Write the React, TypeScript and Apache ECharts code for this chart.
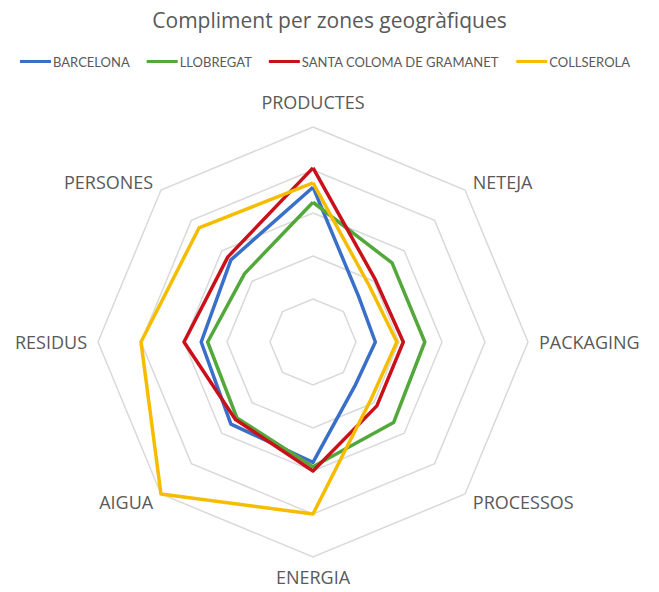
import React, { useEffect, useRef } from "react";
import * as echarts from "echarts";

// Axis categories in ECharts radar order (counter-clockwise from the top)
const categories = ["PRODUCTES", "PERSONES", "RESIDUS", "AIGUA", "ENERGIA", "PROCESSOS", "PACKAGING", "NETEJA"];
const seriesNames = ["BARCELONA", "LLOBREGAT", "SANTA COLOMA DE GRAMANET", "COLLSEROLA"];
const barcelona = [72, 54, 52, 54, 56, 28, 29, 30];
const llobregat = [65, 45, 49, 50, 58, 53, 52, 52];
const santaColoma = [81, 56, 60, 51, 60, 42, 42, 41];
const collserola = [74, 75, 80, 100, 80, 38, 39, 37];
const maxValue = 100;

const colors = ["#3a6fc9", "#52a83a", "#c8111a", "#f6bd00"];
const txt = "#595959";

export default function App() {
  const ref = useRef<HTMLDivElement>(null);
  useEffect(() => {
    if (!ref.current) return;
    const chart = echarts.init(ref.current, undefined, { renderer: "svg" });
    const values = [barcelona, llobregat, santaColoma, collserola];
    chart.setOption({
      animation: false,
      backgroundColor: "#ffffff",
      title: {
        text: "Compliment per zones geogràfiques",
        left: "center",
        top: 4,
        textStyle: { fontFamily: "Open Sans", fontSize: 21, fontWeight: "normal", color: txt },
      },
      legend: {
        top: 50,
        left: 15,
        icon: "rect",
        itemWidth: 31,
        itemHeight: 3,
        itemGap: 17,
        data: seriesNames,
        textStyle: { fontFamily: "Lato", fontSize: 13, color: txt, padding: [0, 0, 0, -3] },
      },
      radar: {
        center: [313, 342],
        radius: 215,
        startAngle: 90,
        splitNumber: 5,
        shape: "polygon",
        indicator: categories.map((c) => ({ name: c, max: maxValue, min: 0 })),
        axisName: { color: txt, fontFamily: "Open Sans", fontSize: 18, padding: [0, 0, 5, 0] },
        nameGap: 11,
        axisLine: { show: false },
        axisTick: { show: false },
        axisLabel: { show: false },
        splitArea: { show: false },
        splitLine: { lineStyle: { color: "#d9d9d9", width: 1.5 } },
      },
      series: [
        {
          type: "radar",
          symbol: "none",
          data: seriesNames.map((n, i) => ({
            name: n,
            value: values[i],
            lineStyle: { color: colors[i], width: 3.5 },
            itemStyle: { color: colors[i] },
          })),
        },
      ],
    });
    return () => chart.dispose();
  }, []);
  return <div ref={ref} style={{ position: "fixed", left: 0, top: 0, width: 659, height: 592 }} />;
}
